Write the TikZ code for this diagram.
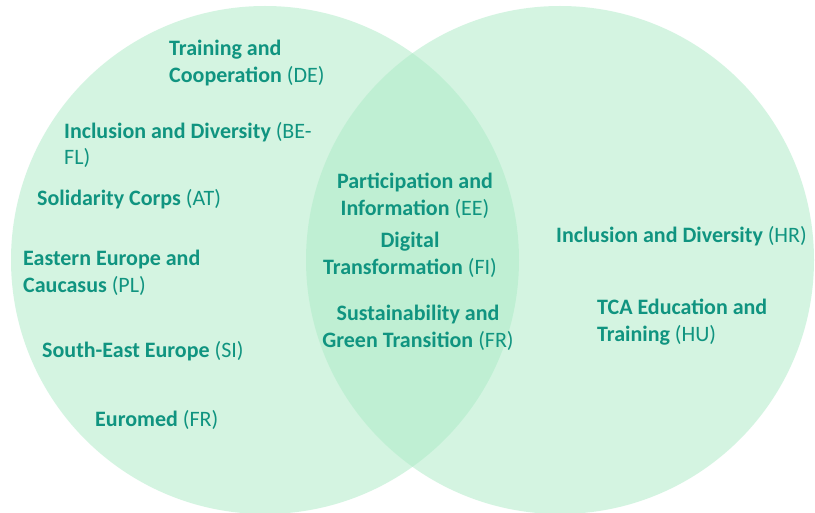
\documentclass[tikz,border=0pt]{standalone}
\usepackage{fontspec}
\setmainfont{Carlito}
\definecolor{venn}{RGB}{174,236,200}
\definecolor{txt}{RGB}{16,148,128}
\begin{document}
\begin{tikzpicture}[x=1pt,y=-1pt,
  set/.style={fill=venn,fill opacity=0.53,draw=none},
  lbl/.style={inner sep=0pt,text=txt,font=\fontsize{22}{26.8}\selectfont},
  lblL/.style={lbl,align=left,anchor=west},
  lblC/.style={lbl,align=center}]
\useasboundingbox (0,0) rectangle (815,513);
\fill[white] (0,0) rectangle (815,513);
\begin{scope}
\clip (0,0) rectangle (815,513);
\path[set] (265,260) circle (254);
\path[set] (560,260) circle (254);
\end{scope}
\node[lblL] (de) at (169,63) {\textbf{Training and}\\\textbf{Cooperation} (DE)};
\node[lblL] (befl) at (64,145) {\textbf{Inclusion and Diversity} (BE-\\FL)};
\node[lblL] (at) at (37,199.5) {\textbf{Solidarity Corps} (AT)};
\node[lblL] (pl) at (23,273) {\textbf{Eastern Europe and}\\\textbf{Caucasus} (PL)};
\node[lblL] (si) at (42,351.5) {\textbf{South-East Europe} (SI)};
\node[lblL] (fr) at (95,419.5) {\textbf{Euromed} (FR)};
\node[lblC] (ee) at (415,195.5) {\textbf{Participation and}\\\textbf{Information} (EE)};
\node[lblC] (fi) at (410,254.5) {\textbf{Digital}\\\textbf{Transformation} (FI)};
\node[lblC] (frc) at (418,327.5) {\textbf{Sustainability and}\\\textbf{Green Transition} (FR)};
\node[lblL] (hr) at (556,236.5) {\textbf{Inclusion and Diversity} (HR)};
\node[lblL] (hu) at (597,322.5) {\textbf{TCA Education and}\\\textbf{Training} (HU)};
\end{tikzpicture}
\end{document}
